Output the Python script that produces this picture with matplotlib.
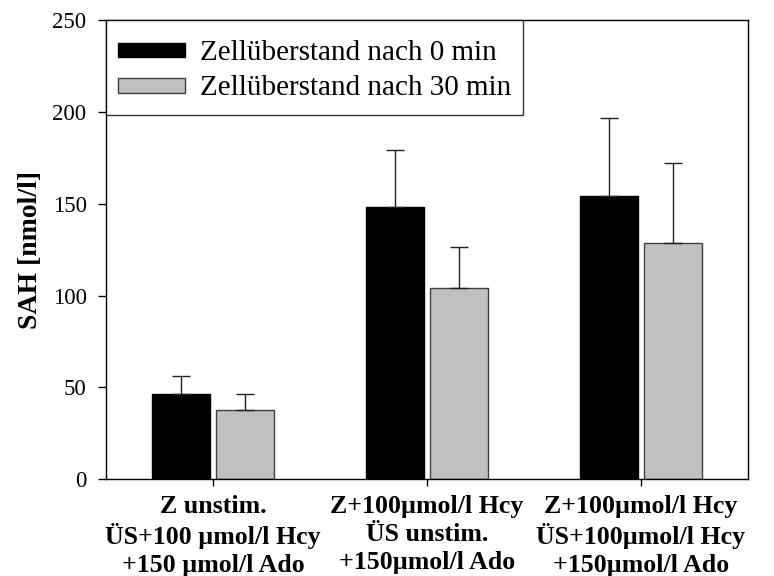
import matplotlib
matplotlib.use("Agg")
import matplotlib.pyplot as plt
from matplotlib.patches import Rectangle
from matplotlib.container import BarContainer
from matplotlib.legend_handler import HandlerPatch, update_from_first_child
import numpy as np

plt.rcParams["font.family"] = ["Liberation Serif", "DejaVu Serif"]

categories = [
    "Z unstim.\nÜS+100 µmol/l Hcy\n+150 µmol/l Ado",
    "Z+100µmol/l Hcy\nÜS unstim.\n+150µmol/l Ado",
    "Z+100µmol/l Hcy\nÜS+100µmol/l Hcy\n+150µmol/l Ado",
]
series_names = ["Zellüberstand nach 0 min", "Zellüberstand nach 30 min"]
values_0min = [46.5, 148.0, 154.0]
errors_0min = [9.5, 31.5, 42.5]
values_30min = [37.5, 104.0, 128.5]
errors_30min = [9.0, 22.5, 43.5]
y_ticks = [0, 50, 100, 150, 200, 250]

fig = plt.figure(figsize=(7.74, 5.76), dpi=100)
ax = fig.add_axes([0.137, 0.168, 0.829, 0.797])

x = np.arange(len(categories))
width = 0.27
offset = 0.15

ax.bar(x - offset, values_0min, width, color="black", edgecolor="black",
       linewidth=1, label=series_names[0], zorder=2)
ax.bar(x + offset, values_30min, width, color="#c0c0c0", edgecolor="#404040",
       linewidth=1, label=series_names[1], zorder=2)

# upward-only error bars
ax.errorbar(x - offset, values_0min, yerr=[np.zeros(3), errors_0min], fmt="none",
            ecolor="#222222", elinewidth=1, capsize=6.5, capthick=1, zorder=3)
ax.errorbar(x + offset, values_30min, yerr=[np.zeros(3), errors_30min], fmt="none",
            ecolor="#222222", elinewidth=1, capsize=6.5, capthick=1, zorder=3)

ax.set_xlim(-0.5, 2.5)
ax.set_ylim(0, 250)
ax.set_yticks(y_ticks)
ax.set_xticks(x)
ax.set_xticklabels(categories, fontsize=18.6, fontweight="bold", linespacing=1.28)
ax.tick_params(axis="y", labelsize=16.5, length=6, width=1, direction="out", pad=8)
ax.tick_params(axis="x", length=5, width=1, direction="out", pad=6)
ax.set_ylabel("SAH [nmol/l]", fontsize=20, fontweight="bold", labelpad=7)

for sp in ax.spines.values():
    sp.set_linewidth(1)
    sp.set_color("black")


def slim_box(legend, orig_handle, xdescent, ydescent, width, height, fontsize):
    # flat swatch centred in a taller legend row
    h = 0.5 * fontsize
    return Rectangle((-xdescent, -ydescent + (height - h) / 2), width, h)


slim_handler = HandlerPatch(patch_func=slim_box, update_func=update_from_first_child)

leg = ax.legend(loc="upper left", bbox_to_anchor=(0, 1), borderaxespad=0,
                fontsize=21, frameon=True, fancybox=False, edgecolor="black",
                handlelength=2.3, handleheight=1.5, handletextpad=0.5,
                borderpad=0.41, labelspacing=0.0,
                handler_map={BarContainer: slim_handler})
leg.get_frame().set_linewidth(1)

fig.savefig("out.png", dpi=100)
